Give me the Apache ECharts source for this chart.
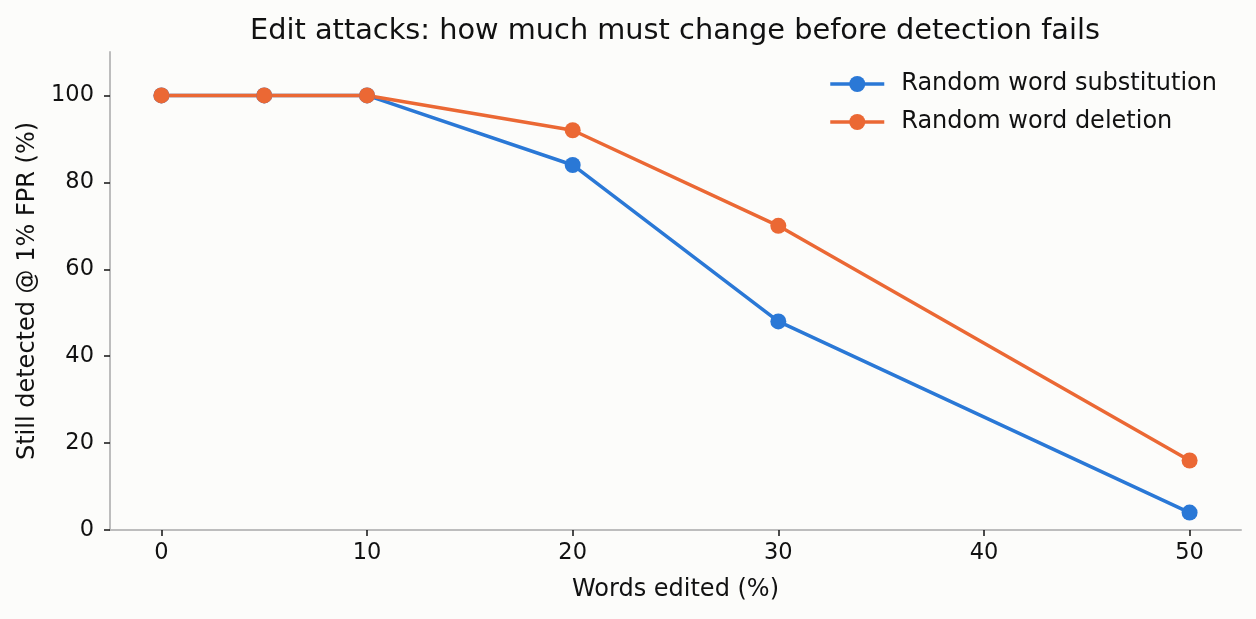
<!DOCTYPE html>
<html>
<head>
<meta charset="utf-8">
<script src="https://cdn.jsdelivr.net/npm/echarts@6/dist/echarts.min.js"></script>
<style>
    html, body { margin: 0; padding: 0; background: #fcfcfa; }
    #edit_attacks { width: 1256px; height: 619px; }
</style>
</head>
<body>
<div id="edit_attacks"></div>
<script>
// Chart data
// ------------------------------

var wordsEdited = [0, 5, 10, 20, 30, 50];
var substitution = [100, 100, 100, 84, 48, 4];
var deletion = [100, 100, 100, 92, 70, 16];
var xTicks = [0, 10, 20, 30, 40, 50];
var yTicks = [0, 20, 40, 60, 80, 100];

var pairUp = function(xs, ys) {
    return xs.map(function(x, i) { return [x, ys[i]]; });
};

// Chart setup
// ------------------------------

document.addEventListener('DOMContentLoaded', function() {
    var element = document.getElementById('edit_attacks');
    var chart = echarts.init(element);

    var font = 'DejaVu Sans, sans-serif';

    chart.setOption({
        backgroundColor: '#fcfcfa',
        color: ['#2a78d6', '#eb6834'],
        animation: false,
        textStyle: { fontFamily: font },

        title: {
            text: 'Edit attacks: how much must change before detection fails',
            left: 670,
            textAlign: 'center',
            top: 12,
            textStyle: { fontFamily: font, fontSize: 28.8, fontWeight: 'normal', color: '#111' }
        },

        grid: { left: 110, right: 15, top: 52, bottom: 89 },

        legend: {
            right: 34,
            top: 67,
            orient: 'vertical',
            itemWidth: 54,
            itemHeight: 20,
            itemGap: 14,
            lineStyle: { width: 3.5 },
            textStyle: { fontFamily: font, fontSize: 24, color: '#111', padding: [0, 0, 0, 12] },
            data: ['Random word substitution', 'Random word deletion']
        },

        xAxis: {
            type: 'value',
            min: -2.5,
            max: 52.5,
            name: 'Words edited (%)',
            nameLocation: 'middle',
            nameGap: 48,
            nameTextStyle: { fontFamily: font, fontSize: 24, color: '#111' },
            axisLine: { onZero: false, lineStyle: { color: '#bdbdbd', width: 2 } },
            axisTick: { show: true, length: 6, customValues: xTicks, lineStyle: { color: '#111', width: 1.5 } },
            axisLabel: { customValues: xTicks, margin: 12, fontFamily: font, fontSize: 22.5, color: '#111' },
            splitLine: { show: false }
        },

        yAxis: {
            type: 'value',
            min: 0,
            max: 110,
            name: 'Still detected @ 1% FPR (%)',
            nameLocation: 'middle',
            nameGap: 70,
            nameTextStyle: { fontFamily: font, fontSize: 24, color: '#111' },
            axisLine: { show: true, onZero: false, lineStyle: { color: '#bdbdbd', width: 2 } },
            axisTick: { show: true, length: 6, customValues: yTicks, lineStyle: { color: '#111', width: 1.5 } },
            axisLabel: { customValues: yTicks, margin: 16, fontFamily: font, fontSize: 22.5, color: '#111' },
            splitLine: { show: false }
        },

        series: [
            {
                name: 'Random word substitution',
                type: 'line',
                symbol: 'circle',
                symbolSize: 16,
                lineStyle: { width: 3.5 },
                data: pairUp(wordsEdited, substitution)
            },
            {
                name: 'Random word deletion',
                type: 'line',
                symbol: 'circle',
                symbolSize: 16,
                lineStyle: { width: 3.5 },
                data: pairUp(wordsEdited, deletion)
            }
        ]
    });
});
</script>
</body>
</html>
